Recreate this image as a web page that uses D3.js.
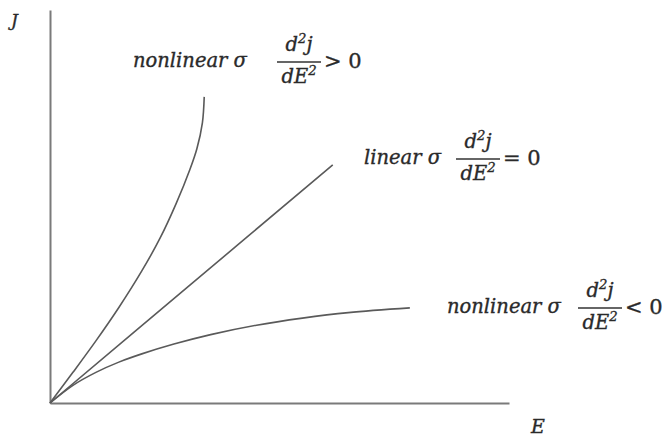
<!DOCTYPE html>
<html>
<head>
<meta charset="utf-8">
<script src="https://cdn.jsdelivr.net/npm/d3@7"></script>
<style>
  html, body { margin: 0; padding: 0; background: #fff; }
  svg { display: block; }
  .lbl { font-family: "DejaVu Serif", serif; font-style: italic; fill: #2a2a2a; stroke: #2a2a2a; stroke-width: 0.35; }
</style>
</head>
<body>
<svg id="chart" width="665" height="439"></svg>
<script>
// Current density J versus field E for three conductivity behaviours
const convexE = [0, 0.5, 1.0, 1.5, 2.0, 2.4, 2.75, 3.05, 3.2, 3.32, 3.36];
const convexJ = [0, 0.78, 1.58, 2.43, 3.36, 4.2, 5.08, 5.95, 6.47, 7.13, 7.79];

const linearE = [0, 3.08, 6.16];
const linearJ = [0, 3.03, 6.06];

const concaveE = [0, 0.5, 1.0, 1.5, 2.0, 2.7, 3.5, 4.5, 5.5, 6.5, 7.84];
const concaveJ = [0, 0.45, 0.78, 1.04, 1.25, 1.5, 1.74, 1.98, 2.16, 2.3, 2.42];

const curveNames = ["nonlinear σ", "linear σ", "nonlinear σ"];
const curveRelations = ["> 0", "= 0", "< 0"];
const axisNames = ["E", "J"];

const svg = d3.select("#chart");
const x = d3.scaleLinear().domain([0, 10]).range([50, 509]);
const y = d3.scaleLinear().domain([0, 10]).range([403, 10]);

// axes: bare lines with no ticks
svg.append("g")
  .attr("transform", `translate(0,${y(0)})`)
  .call(d3.axisBottom(x).tickValues([]).tickSizeOuter(0))
  .select(".domain").attr("stroke", "#7a7a7a").attr("stroke-width", 2);
svg.append("g")
  .attr("transform", `translate(${x(0)},0)`)
  .call(d3.axisLeft(y).tickValues([]).tickSizeOuter(0))
  .select(".domain").attr("stroke", "#7a7a7a").attr("stroke-width", 2);

const line = d3.line()
  .x(d => x(d[0])).y(d => y(d[1]))
  .curve(d3.curveCatmullRom.alpha(0.5));

const series = [
  d3.zip(convexE, convexJ),
  d3.zip(linearE, linearJ),
  d3.zip(concaveE, concaveJ)
];
svg.append("g").selectAll("path").data(series).join("path")
  .attr("d", line)
  .attr("fill", "none")
  .attr("stroke", "#5a5a5a")
  .attr("stroke-width", 1.6);

// annotation layout: name start, baseline, fraction centre
const labelPos = [
  { x: 133, base: 67, fx: 299 },
  { x: 364, base: 164, fx: 478 },
  { x: 447, base: 313, fx: 600 }
];
const fs = 19.5;

labelPos.forEach((p, i) => {
  const g = svg.append("g").attr("class", "lbl");
  g.append("text").attr("x", p.x).attr("y", p.base)
    .attr("font-size", fs).text(curveNames[i]);
  const barY = p.base - 5;
  // numerator d²j
  const num = g.append("text").attr("x", p.fx).attr("y", barY - 11)
    .attr("font-size", fs).attr("text-anchor", "middle");
  num.append("tspan").text("d");
  num.append("tspan").attr("font-size", fs * 0.68).attr("dy", -8).text("2");
  num.append("tspan").attr("dy", 8).text("j");
  // denominator dE²
  const den = g.append("text").attr("x", p.fx).attr("y", barY + 21)
    .attr("font-size", fs).attr("text-anchor", "middle");
  den.append("tspan").text("dE");
  den.append("tspan").attr("font-size", fs * 0.68).attr("dy", -8).text("2");
  g.append("line")
    .attr("x1", p.fx - 22).attr("x2", p.fx + 22)
    .attr("y1", barY).attr("y2", barY)
    .attr("stroke", "#333").attr("stroke-width", 1.4);
  g.append("text").attr("x", p.fx + 25).attr("y", p.base + 1)
    .attr("font-size", 21).style("font-style", "normal").text(curveRelations[i]);
});

// axis names
svg.append("text").attr("class", "lbl").attr("x", 531).attr("y", 433)
  .attr("font-size", 19).text(axisNames[0]);
svg.append("text").attr("class", "lbl").attr("x", 11).attr("y", 26)
  .attr("font-size", 17).text(axisNames[1]);
</script>
</body>
</html>
